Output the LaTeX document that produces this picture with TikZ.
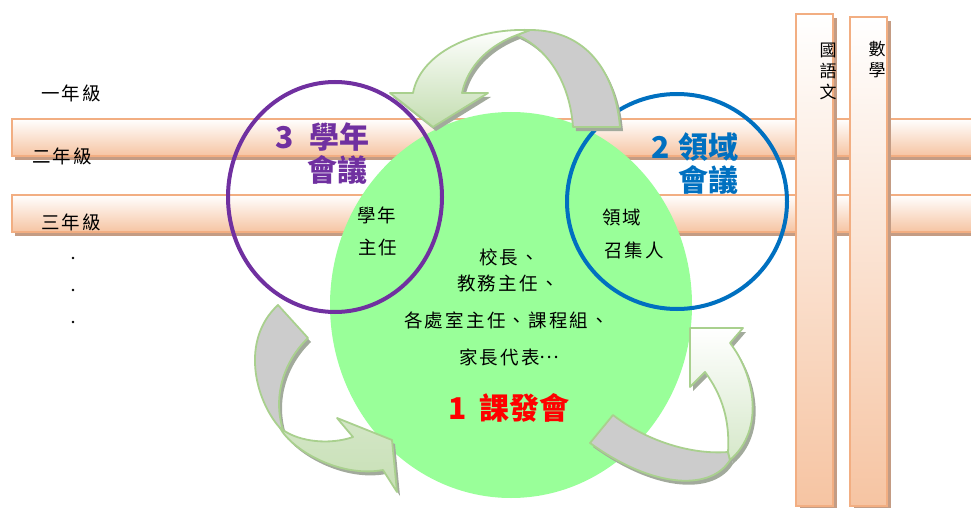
\documentclass[tikz,border=0pt]{standalone}
\usepackage{fontspec}
\setmainfont{Noto Sans CJK TC}
\usetikzlibrary{shapes.geometric}
\definecolor{barline}{HTML}{F2AE82}
\definecolor{barfill}{HTML}{F6C4A2}
\definecolor{barshadowc}{HTML}{C49C84}
\definecolor{circgreen}{HTML}{99FF99}
\definecolor{purplec}{HTML}{7030A0}
\definecolor{bluec}{HTML}{0070C0}
\definecolor{redc}{HTML}{FF0000}
\definecolor{arrowline}{HTML}{A9D08E}
\definecolor{arrgray}{HTML}{CCCCCC}
\definecolor{arrshadowc}{HTML}{A2AA9C}
\definecolor{agreenA}{HTML}{C3DDB0}
\definecolor{agreenB}{HTML}{D6E8CA}
\definecolor{agreenC}{HTML}{D3E6C6}
\definecolor{agreenD}{HTML}{C8E0B6}
\def\TAgray{(517,35) -- (530,30) .. controls (585,30) and (615,70) .. (620,127) -- (573,127) .. controls (570,85) and (550,50) .. (517,35) -- cycle}
\def\TAgreen{(530,30) .. controls (470,28) and (420,55) .. (413,93) -- (390,93) -- (433,127) -- (488,93) -- (462,93) .. controls (468,65) and (490,45) .. (517,35) -- cycle}
\def\RAgray{(590,443) -- (613,415) .. controls (645,440) and (690,455) .. (728,452) -- (730,460) .. controls (712,490) and (655,490) .. (590,443) -- cycle}
\def\RAgreen{(690,328) -- (743,328) -- (730,343) .. controls (755,375) and (765,430) .. (730,460) -- (728,452) .. controls (730,420) and (722,395) .. (705,372) -- (690,387) -- cycle}
\def\LAgray{(278,305) -- (308,338) .. controls (285,360) and (272,395) .. (283,430) -- (280,428) .. controls (255,400) and (240,340) .. (278,305) -- cycle}
\def\LAgreen{(280,428) .. controls (292,450) and (340,478) .. (383,470) -- (397,492) -- (392,440) -- (337,418) -- (353,437) .. controls (330,445) and (300,442) .. (283,430) -- cycle}
\begin{document}
\begin{tikzpicture}[x=1pt,y=-1pt,
  hbar/.style={draw=barline, line width=1.8pt, top color=white, bottom color=barfill},
  vbar/.style={draw=barline, line width=1.8pt, top color=white, bottom color=barfill},
  barshadow/.style={fill=barshadowc},
  arrline/.style={draw=arrowline, line width=1.8pt, line join=round},
  arrshadow/.style={fill=arrshadowc},
  lab/.style={inner sep=0pt, font=\fontsize{18.5}{22}\selectfont\addfontfeature{LetterSpace=12}},
  vlab/.style={inner sep=0pt, align=center, font=\fontsize{17}{21}\selectfont},
  head/.style={inner sep=0pt, font=\fontsize{30}{34}\bfseries\selectfont},
  dotn/.style={circle, fill=black, inner sep=0pt, minimum size=2.6pt},
]
\useasboundingbox (0,0) rectangle (971,508);
\clip (0,0) rectangle (971,508);
% horizontal bars
\fill[barshadow] (15,123) rectangle (985,160);
\path[hbar] (12,119) rectangle (985,156);
\fill[barshadow] (15,199) rectangle (985,236);
\path[hbar] (12,195) rectangle (985,232);
% vertical bars
\fill[barshadow] (800,18) rectangle (837,509);
\path[vbar] (796,14) rectangle (833,506);
\fill[barshadow] (854,21) rectangle (891,509);
\path[vbar] (850,17) rectangle (887,506);
% circles
\node[ellipse, fill=circgreen, inner sep=0pt, minimum width=362pt, minimum height=386pt] (kefa) at (511,305) {};
\node[ellipse, draw=purplec, line width=4pt, inner sep=0pt, minimum width=214pt, minimum height=230pt] (xuenian) at (335,197) {};
\node[ellipse, draw=bluec, line width=4pt, inner sep=0pt, minimum width=220pt, minimum height=215pt] (lingyu) at (677,201.5) {};
% arrow shadows
\fill[arrshadow, shift={(3,4)}] \TAgray;
\fill[arrshadow, shift={(3,4)}] \TAgreen;
\fill[arrshadow, shift={(3,4)}] \RAgray;
\fill[arrshadow, shift={(3,4)}] \RAgreen;
\fill[arrshadow, shift={(3,4)}] \LAgray;
\fill[arrshadow, shift={(3,4)}] \LAgreen;
% arrows
\path[arrline, fill=arrgray] \TAgray;
\path[arrline, top color=white, bottom color=agreenA] \TAgreen;
\path[arrline, fill=arrgray] \RAgray;
\path[arrline, top color=white, bottom color=agreenB] \RAgreen;
\path[arrline, fill=arrgray] \LAgray;
\path[arrline, top color=agreenC, bottom color=agreenD] \LAgreen;
% left labels
\node[lab, anchor=west] (g1) at (41,93) {一年級};
\node[lab, anchor=west] (g2) at (32,156) {二年級};
\node[lab, anchor=west] (g3) at (41,222) {三年級};
\node[dotn] (dot1) at (73,258) {};
\node[dotn] (dot2) at (73,290) {};
\node[dotn] (dot3) at (73,322) {};
% vertical labels
\node[vlab] (guoyu) at (828,71) {國\\語\\文};
\node[vlab] (shuxue) at (877,60) {數\\學};
% headings
\node[head, text=purplec, anchor=east] (h3a) at (370,137) {3\hspace{16pt}學年};
\node[head, text=purplec, anchor=east] (h3b) at (368,170) {會議};
\node[head, text=bluec, anchor=east] (h2a) at (739,147) {2\hspace{9pt}領域};
\node[head, text=bluec, anchor=east] (h2b) at (739,180) {會議};
\node[head, text=redc] (h1) at (509,408) {1\hspace{12pt}課發會};
% inner labels
\node[lab, anchor=west] (xn1) at (357,215) {學年};
\node[lab, anchor=west] (xn2) at (358,247) {主任};
\node[lab, anchor=west] (ly1) at (602,217) {領域};
\node[lab, anchor=west] (ly2) at (604,250) {召集人};
\node[lab, anchor=west] (m1) at (479,257) {校長、};
\node[lab, anchor=west] (m2) at (457,283) {教務主任、};
\node[lab, anchor=west] (m3) at (404,320) {各處室主任、課程組、};
\node[lab, anchor=west] (m4) at (459,357) {家長代表\raisebox{0.3em}{…}};
\end{tikzpicture}
\end{document}
